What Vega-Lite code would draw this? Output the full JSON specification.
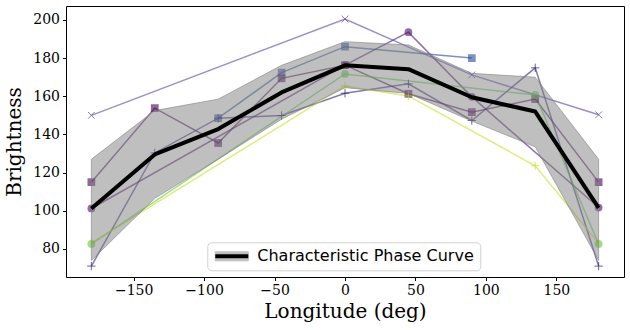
{
  "$schema": "https://vega.github.io/schema/vega-lite/v6.json",
  "autosize": "none",
  "width": 558,
  "height": 271,
  "padding": {"left": 66, "top": 6, "right": 6, "bottom": 53},
  "background": "white",
  "config": {
    "view": {"stroke": "black", "strokeWidth": 1},
    "axis": {
      "grid": false,
      "domain": false,
      "labelFont": "DejaVu Serif",
      "labelFontSize": 14,
      "labelColor": "black",
      "tickColor": "black",
      "tickSize": 3.5,
      "tickWidth": 1,
      "labelPadding": 3,
      "titleFont": "DejaVu Serif",
      "titleFontSize": 20,
      "titleFontWeight": "normal",
      "titleColor": "black"
    },
    "legend": {
      "orient": "none",
      "legendX": 141.3,
      "legendY": 236.3,
      "padding": 6,
      "labelFont": "DejaVu Sans",
      "labelFontSize": 16,
      "labelColor": "black",
      "labelLimit": 400,
      "title": null
    }
  },
  "resolve": {"scale": {"shape": "independent"}},
  "datasets": {
    "series": [
      {"s": "A", "lon": -180, "val": 115},
      {"s": "A", "lon": -135, "val": 153.8},
      {"s": "A", "lon": -90, "val": 135.5},
      {"s": "A", "lon": -45, "val": 169.4},
      {"s": "A", "lon": 0, "val": 176.3},
      {"s": "A", "lon": 45, "val": 161.3},
      {"s": "A", "lon": 90, "val": 151.7},
      {"s": "A", "lon": 135, "val": 158.5},
      {"s": "A", "lon": 180, "val": 115},
      {"s": "B", "lon": -180, "val": 101.2},
      {"s": "B", "lon": 0, "val": 176.3},
      {"s": "B", "lon": 45, "val": 193.6},
      {"s": "B", "lon": 90, "val": 159.7},
      {"s": "B", "lon": 180, "val": 101.7},
      {"s": "C", "lon": -180, "val": 71},
      {"s": "C", "lon": -135, "val": 130.3},
      {"s": "C", "lon": -90, "val": 148.5},
      {"s": "C", "lon": -45, "val": 149.9},
      {"s": "C", "lon": 0, "val": 161.6},
      {"s": "C", "lon": 45, "val": 166.5},
      {"s": "C", "lon": 90, "val": 147.3},
      {"s": "C", "lon": 135, "val": 174.9},
      {"s": "C", "lon": 180, "val": 71},
      {"s": "D", "lon": -180, "val": 150},
      {"s": "D", "lon": 0, "val": 200.5},
      {"s": "D", "lon": 90, "val": 171.2},
      {"s": "D", "lon": 180, "val": 150.3},
      {"s": "E", "lon": -90, "val": 148.5},
      {"s": "E", "lon": -45, "val": 172.4},
      {"s": "E", "lon": 0, "val": 186},
      {"s": "E", "lon": 90, "val": 180},
      {"s": "F", "lon": -180, "val": 82.6},
      {"s": "F", "lon": 0, "val": 171.7},
      {"s": "F", "lon": 135, "val": 160.7},
      {"s": "F", "lon": 180, "val": 82.6},
      {"s": "G", "lon": -180, "val": 83},
      {"s": "G", "lon": 0, "val": 165.4},
      {"s": "G", "lon": 45, "val": 160.2},
      {"s": "G", "lon": 135, "val": 123.6},
      {"s": "G", "lon": 180, "val": 83}
    ],
    "mean": [
      {"lon": -180, "mean": 101.2, "lower": 74, "upper": 127, "band": "band", "curve": "Characteristic Phase Curve"},
      {"lon": -135, "mean": 129.5, "lower": 106.5, "upper": 152.5, "band": "band", "curve": "Characteristic Phase Curve"},
      {"lon": -90, "mean": 142.8, "lower": 127, "upper": 158.5, "band": "band", "curve": "Characteristic Phase Curve"},
      {"lon": -45, "mean": 162, "lower": 148, "upper": 176.2, "band": "band", "curve": "Characteristic Phase Curve"},
      {"lon": 0, "mean": 176.2, "lower": 164.5, "upper": 188.6, "band": "band", "curve": "Characteristic Phase Curve"},
      {"lon": 45, "mean": 174.2, "lower": 161.5, "upper": 186.9, "band": "band", "curve": "Characteristic Phase Curve"},
      {"lon": 90, "mean": 159.5, "lower": 147, "upper": 172, "band": "band", "curve": "Characteristic Phase Curve"},
      {"lon": 135, "mean": 152, "lower": 133.5, "upper": 170, "band": "band", "curve": "Characteristic Phase Curve"},
      {"lon": 180, "mean": 101.5, "lower": 74, "upper": 127, "band": "band", "curve": "Characteristic Phase Curve"}
    ]
  },
  "encoding": {
    "x": {
      "field": "lon", "type": "quantitative",
      "scale": {"domain": [-198, 198], "nice": false, "zero": false},
      "axis": {"values": [-150, -100, -50, 0, 50, 100, 150], "format": "d", "title": "Longitude (deg)", "titlePadding": 4}
    }
  },
  "layer": [
    {
      "data": {"name": "series"},
      "mark": {"type": "line", "strokeWidth": 1.5, "opacity": 0.6},
      "encoding": {
        "y": {
          "field": "val", "type": "quantitative",
          "scale": {"domain": [65.3, 207.3], "nice": false, "zero": false},
          "axis": {"values": [80, 100, 120, 140, 160, 180, 200], "title": "Brightness", "titlePadding": 8}
        },
        "color": {
          "field": "s", "type": "nominal",
          "scale": {"domain": ["A", "B", "C", "D", "E", "F", "G"], "range": ["#440154", "#4b0c6b", "#2e1f78", "#5048a3", "#264893", "#5cc84a", "#c8e020"]},
          "legend": null
        }
      }
    },
    {
      "data": {"name": "series"},
      "transform": [{"filter": {"field": "s", "oneOf": ["A", "B", "E", "F"]}}],
      "mark": {"type": "point", "filled": true, "opacity": 0.6, "size": 60, "strokeWidth": 1},
      "encoding": {
        "y": {"field": "val", "type": "quantitative"},
        "color": {"field": "s", "type": "nominal", "legend": null},
        "shape": {
          "field": "s", "type": "nominal",
          "scale": {"domain": ["A", "B", "E", "F"], "range": ["square", "circle", "square", "circle"]},
          "legend": null
        }
      }
    },
    {
      "data": {"name": "series"},
      "transform": [{"filter": {"field": "s", "oneOf": ["C", "D", "G"]}}],
      "mark": {"type": "point", "filled": false, "opacity": 0.7, "size": 70, "strokeWidth": 1},
      "encoding": {
        "y": {"field": "val", "type": "quantitative"},
        "color": {"field": "s", "type": "nominal", "legend": null},
        "shape": {
          "field": "s", "type": "nominal",
          "scale": {"domain": ["C", "D", "G"], "range": ["M-1,0H1M0,-1V1", "M-0.8,-0.8L0.8,0.8M-0.8,0.8L0.8,-0.8", "M-1,0H1M0,-1V1"]},
          "legend": null
        }
      }
    },
    {
      "data": {"name": "mean"},
      "mark": {"type": "area", "fillOpacity": 0.5, "stroke": "#808080", "strokeOpacity": 0.6, "strokeWidth": 1},
      "encoding": {
        "y": {"field": "lower", "type": "quantitative"},
        "y2": {"field": "upper"},
        "fill": {
          "field": "band", "type": "nominal",
          "scale": {"domain": ["band"], "range": ["#808080"]},
          "legend": {
            "labelExpr": "'Characteristic Phase Curve'",
            "labelOpacity": 0,
            "symbolType": "M-1,-0.75H4.5V0.75H-1Z",
            "symbolSize": 144,
            "symbolOpacity": 0.5,
            "symbolStrokeColor": "#808080",
            "symbolStrokeWidth": 1,
            "labelOffset": 28,
            "strokeColor": "#d0d0d0",
            "cornerRadius": 4,
            "zindex": 1
          }
        }
      }
    },
    {
      "data": {"name": "mean"},
      "mark": {"type": "line", "strokeWidth": 4, "strokeJoin": "round"},
      "encoding": {
        "y": {"field": "mean", "type": "quantitative"},
        "stroke": {
          "field": "curve", "type": "nominal",
          "scale": {"domain": ["Characteristic Phase Curve"], "range": ["black"]},
          "legend": {
            "symbolType": "M-1,0H4.5",
            "symbolSize": 144,
            "symbolStrokeWidth": 4,
            "symbolStrokeColor": "black",
            "labelOffset": 28,
            "zindex": 2
          }
        }
      }
    }
  ]
}
